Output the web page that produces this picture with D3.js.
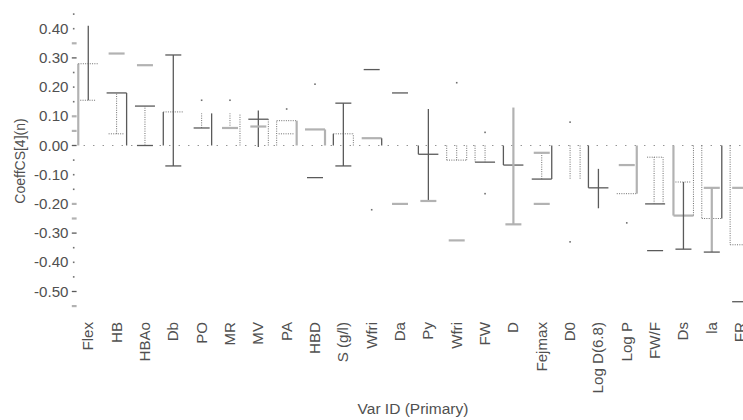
<!DOCTYPE html>
<html><head><meta charset="utf-8">
<script src="https://cdn.jsdelivr.net/npm/d3@7"></script>
<style>body{margin:0;background:#fff}svg{display:block}text{font-family:"Liberation Sans",Arial,sans-serif;fill:#505050}</style>
</head><body><svg id="c" width="743" height="420"></svg>
<script>
// ---- data ----
const categories = ["Flex","HB","HBAo","Db","PO","MR","MV","PA","HBD","S (g/l)","Wfri","Da","Py","Wfri","FW","D","Fejmax","D0","Log D(6.8)","Log P","FW/F","Ds","la","FR"];
const barValue = [0.28,0.18,0.135,0.115,0.11,0.11,0.09,0.085,0.055,0.04,0.025,0,-0.03,-0.05,-0.057,-0.067,-0.115,-0.115,-0.145,-0.165,-0.2,-0.24,-0.25,-0.34];
const errLow  = [0.155,0.04,0,-0.07,0.06,0.06,-0.005,0.04,-0.11,-0.07,-0.22,-0.2,-0.19,-0.325,-0.165,-0.27,-0.115,-0.33,-0.215,-0.265,-0.2,-0.355,-0.365,-0.535];
const errHigh = [0.41,0.18,0.135,0.31,0.11,0.11,0.12,0.125,0.21,0.145,0.26,0.18,0.125,0.215,0.045,0.13,-0.025,0.08,-0.08,-0.067,-0.04,-0.125,-0.145,-0.145];
const markValue = [null,0.315,0.275,null,0.155,0.155,0.065,null,null,null,null,null,null,null,null,null,-0.2,null,null,null,-0.36,null,null,null];
const yTickLabels = [0.4,0.3,0.2,0.1,0,-0.1,-0.2,-0.3,-0.4,-0.5];
const yMinorTicks = d3.range(21).map(i => +(0.45 - i*0.05).toFixed(2));

// ---- styles (separate from values) ----
// bar: left, top(value edge), right, centre ; err: stem, low cap, high cap
const barStyle = ["lo--","-dd-","-d--","do--","--d-","--o-","-do-","ool-","-ll-","doo-","-ld-","----","dd--","oooo","od-o","dd--","-dd-","--oo","dd--","-ol-","-d--","llo-","ood-","oo--"];
const errStyle = ["do-","oo-","od-","ddd","od-","ol-","d--","-op","-dp","ddd","-pd","-ld","dl-","-lp","-pp","ll-","o-l","-pp","d--","-pl","w-o","ddo","ldl","-dl"];
const markStyle = ["-","l","l","-","p","p","l","-","-","-","-","-","-","-","-","-","l","-","-","-","d","-","-","-"];
const tickStyle = "ppldppplldppplldpppdlpp".split("");
const S = {
  d:{stroke:"#5a5a5a",w:1.3,dash:null},
  l:{stroke:"#b2b2b2",w:2.2,dash:null},
  o:{stroke:"#6e6e6e",w:1,dash:"1,1.3"}
};

const svg = d3.select("#c");
const x = d3.scaleBand().domain(d3.range(categories.length)).range([74.1, 754.3]);
const y = d3.scaleLinear().domain([-0.55,0.45]).range([306.1,14.1]);
const g = svg.append("g");

function seg(x1,y1,x2,y2,code){
  if(!S[code]) return;
  const s=S[code];
  g.append("line").attr("x1",x1).attr("y1",y1).attr("x2",x2).attr("y2",y2)
   .attr("stroke",s.stroke).attr("stroke-width",s.w).attr("stroke-dasharray",s.dash);
}
function dot(cx,cy){
  g.append("rect").attr("x",cx-0.8).attr("y",cy-0.8).attr("width",1.6).attr("height",1.6).attr("fill","#707070");
}
function hmark(cx,v,hw,code){
  if(code==="p") dot(cx,y(v)); else seg(cx-hw,y(v),cx+hw,y(v),code);
}

// zero reference line
g.append("line").attr("x1",x(0)).attr("x2",743).attr("y1",y(0)).attr("y2",y(0))
 .attr("stroke","#8a8a8a").attr("stroke-width",1.2).attr("stroke-dasharray","1.3,8.2");

// y ticks
yMinorTicks.forEach((v,i)=>{
  const t=tickStyle[i];
  if(t==="p") dot(73.7,y(v));
  else seg(71.8,y(v),76.6,y(v),t==="l"?"l":"d");
});
g.selectAll("text.yl").data(yTickLabels).join("text")
 .attr("text-anchor","end")
 .attr("transform",v=>`translate(68.5,${y(v)}) scale(1.08,1)`)
 .attr("dy","0.36em").style("font-size","14px").text(v=>v.toFixed(2));

// marks per category
categories.forEach((c,i)=>{
  const cx = x(i)+x.bandwidth()/2;
  const hw = 10, cw = 8;
  const bs = barStyle[i], es = errStyle[i];
  const y0 = y(0), yb = y(barValue[i]);
  seg(cx-hw,y0,cx-hw,yb,bs[0]);
  seg(cx-hw,yb,cx+hw,yb,bs[1]);
  seg(cx+hw,y0,cx+hw,yb,bs[2]);
  seg(cx,y0,cx,yb,bs[3]);
  const yl=y(errLow[i]), yh=y(errHigh[i]);
  if(es[0]==="w"){ seg(cx-1,yl,cx-1,yh,"o"); seg(cx+8,yl,cx+8,yh,"o"); }
  else seg(cx,yl,cx,yh,es[0]);
  hmark(cx,errLow[i],cw,es[1]);
  hmark(cx,errHigh[i],cw,es[2]);
  if(markValue[i]!==null) hmark(cx,markValue[i],cw,markStyle[i]);
});

// x labels
svg.selectAll("text.xl").data(categories).join("text")
 .attr("text-anchor","end")
 .attr("transform",(d,i)=>`translate(${x(i)+x.bandwidth()/2},322) rotate(-90) scale(1.08,1)`)
 .attr("dy","0.36em").style("font-size","14px").text(d=>d);

// axis titles
svg.append("text").attr("text-anchor","middle")
 .attr("transform","translate(24.5,161) rotate(-90)")
 .style("font-size","14px").text("CoeffCS[4](n)");
svg.append("text").attr("text-anchor","middle").attr("x",413).attr("y",414)
 .style("font-size","15.5px").text("Var ID (Primary)");
</script></body></html>
